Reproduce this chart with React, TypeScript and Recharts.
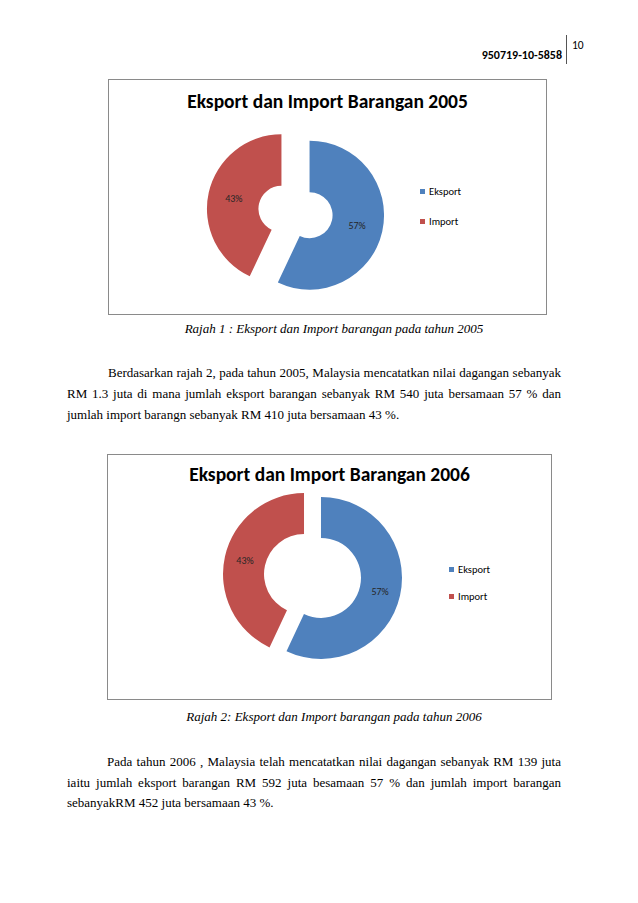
import React from "react";
import { PieChart, Pie, Cell, Legend } from "recharts";

// ---- data ----
const categories = ["Eksport", "Import"];
const values2005 = [57, 43];
const values2006 = [57, 43];
const sliceColors = ["#4F81BD", "#C0504D"];
const titles = ["Eksport dan Import Barangan 2005", "Eksport dan Import Barangan 2006"];

const captions = [
  "Rajah 1 : Eksport dan Import barangan pada tahun 2005",
  "Rajah 2: Eksport dan Import barangan pada tahun 2006",
];
const para1 = [
  "Berdasarkan rajah 2, pada tahun 2005, Malaysia mencatatkan nilai dagangan sebanyak",
  "RM 1.3 juta di mana jumlah eksport barangan sebanyak RM 540 juta bersamaan 57 % dan",
  "jumlah import barangn sebanyak RM 410 juta bersamaan 43 %.",
];
const para2 = [
  "Pada tahun 2006 , Malaysia telah mencatatkan nilai dagangan sebanyak RM 139 juta",
  "iaitu jumlah eksport barangan RM 592 juta besamaan 57 % dan jumlah import barangan",
  "sebanyakRM 452 juta bersamaan 43 %.",
];

const CAL = "Carlito, Calibri, Lato, 'Open Sans', sans-serif";
const SERIF = "'Liberation Serif', 'Times New Roman', serif";
const RADIAN = Math.PI / 180;

type ChartCfg = {
  title: string;
  values: number[];
  box: { left: number; top: number; width: number; height: number };
  center: [number, number];
  inner: number;
  outer: number;
  explode: number;
  titleY: number;
  titleSize: number;
  legendLeft: number;
  legendTop: number;
  legendRow: number;
};

function DonutBox({ cfg }: { cfg: ChartCfg }) {
  const data = categories.map((name, i) => ({ name, value: cfg.values[i] }));
  const total = cfg.values.reduce((a, b) => a + b, 0);
  const w = cfg.box.width - 2;
  const h = cfg.box.height - 2;

  const offsets = cfg.values.map((v, i) => {
    const before = cfg.values.slice(0, i).reduce((a, b) => a + b, 0);
    const frac = (before + v / 2) / total;
    const th = frac * 2 * Math.PI;
    return [cfg.explode * Math.sin(th), -cfg.explode * Math.cos(th)];
  });

  const makeLabel = (k: number) => (p: any) => {
    if (p.index !== k) return null;
    const r = (p.innerRadius + p.outerRadius) / 2;
    const x = p.cx + r * Math.cos(-p.midAngle * RADIAN);
    const y = p.cy + r * Math.sin(-p.midAngle * RADIAN);
    return (
      <text
        x={x}
        y={y}
        textAnchor="middle"
        dominantBaseline="central"
        fontFamily={CAL}
        fontSize={10}
        fill="#262626"
      >
        {`${Math.round(p.percent * 100)}%`}
      </text>
    );
  };

  return (
    <div
      style={{
        position: "absolute",
        left: cfg.box.left,
        top: cfg.box.top,
        width: cfg.box.width,
        height: cfg.box.height,
        border: "1px solid #8a8a8a",
        boxSizing: "border-box",
        background: "#fff",
      }}
    >
      <div
        style={{
          position: "absolute",
          left: 0,
          width: w,
          top: cfg.titleY - cfg.titleSize * 0.65,
          textAlign: "center",
          fontFamily: CAL,
          fontWeight: 700,
          fontSize: cfg.titleSize,
          lineHeight: `${Math.round(cfg.titleSize * 1.3)}px`,
          color: "#000",
          zIndex: 2,
        }}
      >
        {cfg.title}
      </div>
      <PieChart width={w} height={h} margin={{ top: 0, right: 0, bottom: 0, left: 0 }}>
        {categories.map((_, k) => (
          <Pie
            key={k}
            data={data}
            dataKey="value"
            nameKey="name"
            cx={cfg.center[0] + offsets[k][0]}
            cy={cfg.center[1] + offsets[k][1]}
            innerRadius={cfg.inner}
            outerRadius={cfg.outer}
            startAngle={90}
            endAngle={-270}
            stroke="none"
            isAnimationActive={false}
            labelLine={false}
            label={makeLabel(k)}
          >
            {data.map((_, i) => (
              <Cell key={i} fill={i === k ? sliceColors[i] : "transparent"} stroke="none" />
            ))}
          </Pie>
        ))}
        <Legend
          wrapperStyle={{ left: cfg.legendLeft, top: cfg.legendTop, width: "auto" }}
          content={() => (
            <div>
              {categories.map((c, i) => (
                <div
                  key={c}
                  style={{
                    display: "flex",
                    alignItems: "center",
                    height: cfg.legendRow,
                    fontFamily: CAL,
                    fontSize: 10.5,
                    color: "#000",
                  }}
                >
                  <span
                    style={{
                      display: "inline-block",
                      width: 5,
                      height: 5,
                      background: sliceColors[i],
                      marginRight: 4,
                    }}
                  />
                  {c}
                </div>
              ))}
            </div>
          )}
        />
      </PieChart>
    </div>
  );
}

function Lines({ lines, top, step, indent }: { lines: string[]; top: number; step: number; indent: number }) {
  return (
    <>
      {lines.map((t, i) => (
        <div
          key={i}
          style={{
            position: "absolute",
            left: 67 + (i === 0 ? indent : 0),
            width: 494 - (i === 0 ? indent : 0),
            top: top + i * step - 8,
            height: 16,
            lineHeight: "16px",
            fontFamily: SERIF,
            fontSize: 13,
            color: "#000",
            textAlign: "justify",
            textAlignLast: i < lines.length - 1 ? "justify" : "left",
            whiteSpace: "nowrap",
          } as React.CSSProperties}
        >
          {t}
        </div>
      ))}
    </>
  );
}

function Caption({ text, cx, cy }: { text: string; cx: number; cy: number }) {
  return (
    <div
      style={{
        position: "absolute",
        left: cx - 200,
        width: 400,
        top: cy - 8,
        lineHeight: "16px",
        textAlign: "center",
        fontFamily: SERIF,
        fontStyle: "italic",
        fontSize: 13,
        color: "#000",
      }}
    >
      {text}
    </div>
  );
}

export default function App() {
  const c1: ChartCfg = {
    title: titles[0],
    values: values2005,
    box: { left: 108, top: 79, width: 439, height: 236 },
    center: [186.5, 132],
    inner: 23,
    outer: 74.5,
    explode: 14.4,
    titleY: 22,
    titleSize: 19.5,
    legendLeft: 311,
    legendTop: 96,
    legendRow: 30,
  };
  const c2: ChartCfg = {
    title: titles[1],
    values: values2006,
    box: { left: 107, top: 454, width: 445, height: 246 },
    center: [204.5, 121],
    inner: 40,
    outer: 81,
    explode: 8.7,
    titleY: 20,
    titleSize: 19.5,
    legendLeft: 341,
    legendTop: 100.5,
    legendRow: 27,
  };

  return (
    <div
      style={{
        position: "absolute",
        left: 0,
        top: 0,
        width: 638,
        height: 903,
        background: "#fff",
        overflow: "hidden",
      }}
    >
      {/* header */}
      <div
        style={{
          position: "absolute",
          right: 638 - 562,
          top: 48,
          fontFamily: CAL,
          fontWeight: 700,
          fontSize: 12,
          lineHeight: "14px",
          color: "#000",
        }}
      >
        950719-10-5858
      </div>
      <div style={{ position: "absolute", left: 566, top: 35, width: 1, height: 29, background: "#555" }} />
      <div
        style={{
          position: "absolute",
          left: 572,
          top: 38,
          fontFamily: CAL,
          fontSize: 11.5,
          lineHeight: "14px",
          color: "#000",
        }}
      >
        10
      </div>

      <DonutBox cfg={c1} />
      <Caption text={captions[0]} cx={334} cy={329} />
      <Lines lines={para1} top={373} step={21} indent={41} />

      <DonutBox cfg={c2} />
      <Caption text={captions[1]} cx={334} cy={717} />
      <Lines lines={para2} top={762} step={20.5} indent={40} />
    </div>
  );
}
